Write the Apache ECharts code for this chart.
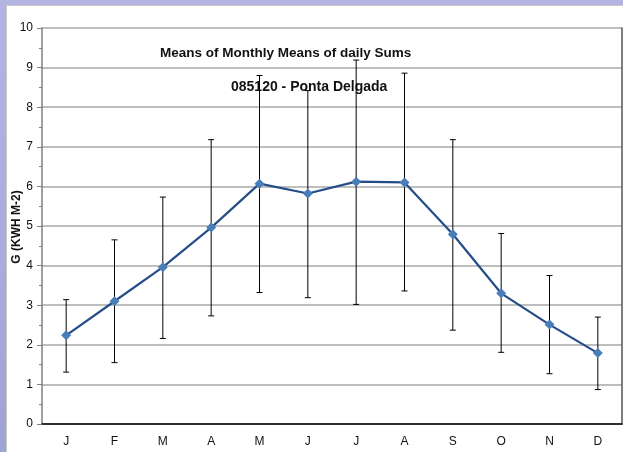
<!DOCTYPE html>
<html>
<head>
<meta charset="utf-8">
<script src="https://cdn.jsdelivr.net/npm/echarts@6/dist/echarts.min.js"></script>
<style>
  html, body { margin: 0; padding: 0; }
  body {
    width: 623px; height: 452px; overflow: hidden; position: relative;
    background: linear-gradient(180deg, #b4b4e2 0%, #a9abdc 60%, #9ea4d2 100%);
  }
  #sheet {
    position: absolute; left: 6px; top: 5px; right: 0; bottom: 0;
    background: #ffffff; border-top: 1px solid #c8c8c8; border-left: 1px solid #c8c8c8;
  }
  #chart { position: absolute; left: 0; top: 0; width: 623px; height: 452px; }
</style>
</head>
<body>
<div id="sheet"></div>
<div id="chart"></div>
<script>
// Monthly global irradiation, Ponta Delgada (station 085120)
const months = ['J', 'F', 'M', 'A', 'M', 'J', 'J', 'A', 'S', 'O', 'N', 'D'];
const meanValues = [2.24, 3.10, 3.96, 4.96, 6.07, 5.82, 6.12, 6.10, 4.79, 3.30, 2.51, 1.79];
const upperValues = [3.14, 4.65, 5.73, 7.18, 8.80, 8.42, 9.19, 8.86, 7.18, 4.81, 3.75, 2.70];
const lowerValues = [1.31, 1.55, 2.16, 2.73, 3.32, 3.19, 3.02, 3.36, 2.37, 1.81, 1.27, 0.87];
const yTicks = { min: 0, max: 10, step: 1 };

const chart = echarts.init(document.getElementById('chart'), null, { renderer: 'canvas' });
const FONT = 'Liberation Sans, Arial, sans-serif';

const rangeData = months.map((m, i) => [i, lowerValues[i], upperValues[i]]);

chart.setOption({
  backgroundColor: 'transparent',
  animation: false,
  grid: { left: 42, right: 1, top: 28, bottom: 28, containLabel: false, outerBoundsMode: 'none' },
  graphic: [
    {
      type: 'text', left: 160, top: 46, z: 0,
      style: { text: 'Means of Monthly Means of daily Sums', font: 'bold 13.5px ' + FONT, fill: '#111' }
    },
    {
      type: 'text', left: 231, top: 80, z: 0,
      style: { text: '085120 - Ponta Delgada', font: 'bold 14px ' + FONT, fill: '#111' }
    },
    {
      // vertical axis title
      type: 'text', x: 17, y: 227, rotation: Math.PI / 2, z: 0,
      style: {
        text: 'G (KWH M-2)', font: 'bold 12px ' + FONT, fill: '#111',
        align: 'center', verticalAlign: 'middle'
      }
    }
  ],
  xAxis: [
    {
      type: 'category', data: months, boundaryGap: true,
      axisLine: { show: true, lineStyle: { color: '#808080', width: 1.5 } },
      axisTick: { show: false },
      axisLabel: { color: '#111', fontFamily: FONT, fontSize: 12, margin: 12 },
      splitLine: { show: false }
    },
    {
      type: 'category', data: months, position: 'top',
      axisLine: { show: true, lineStyle: { color: '#111', width: 1.5 } },
      axisTick: { show: false }, axisLabel: { show: false }
    }
  ],
  yAxis: [
    {
      type: 'value', min: yTicks.min, max: yTicks.max, interval: yTicks.step,
      axisLine: { show: true, lineStyle: { color: '#808080', width: 1.5 } },
      axisTick: { show: true, inside: false, length: 5, lineStyle: { color: '#808080' } },
      minorTick: { show: true, splitNumber: 2, length: 3, lineStyle: { color: '#808080' } },
      axisLabel: { color: '#111', fontFamily: FONT, fontSize: 12, margin: 9 },
      splitLine: { show: true, lineStyle: { color: '#a8a8a8', width: 1.5 } }
    },
    {
      type: 'value', min: yTicks.min, max: yTicks.max, position: 'right',
      axisLine: { show: true, lineStyle: { color: '#555', width: 1.5 } },
      axisTick: { show: false }, axisLabel: { show: false }, splitLine: { show: false }
    }
  ],
  series: [
    {
      type: 'custom',
      name: 'range',
      z: 3,
      data: rangeData,
      renderItem: function (params, api) {
        const idx = api.value(0);
        const lo = api.coord([idx, api.value(1)]);
        const hi = api.coord([idx, api.value(2)]);
        const cap = 3;
        const style = { stroke: '#000', lineWidth: 1 };
        return {
          type: 'group',
          children: [
            { type: 'line', shape: { x1: lo[0], y1: lo[1], x2: hi[0], y2: hi[1] }, style: style },
            { type: 'line', shape: { x1: hi[0] - cap, y1: hi[1], x2: hi[0] + cap, y2: hi[1] }, style: style },
            { type: 'line', shape: { x1: lo[0] - cap, y1: lo[1], x2: lo[0] + cap, y2: lo[1] }, style: style }
          ]
        };
      }
    },
    {
      type: 'line',
      name: 'mean',
      z: 4,
      data: meanValues,
      symbol: 'diamond',
      symbolSize: 10,
      showAllSymbol: true,
      lineStyle: { color: '#254d87', width: 2.2 },
      itemStyle: { color: '#4a7ebb', borderWidth: 0 }
    }
  ]
});
</script>
</body>
</html>
